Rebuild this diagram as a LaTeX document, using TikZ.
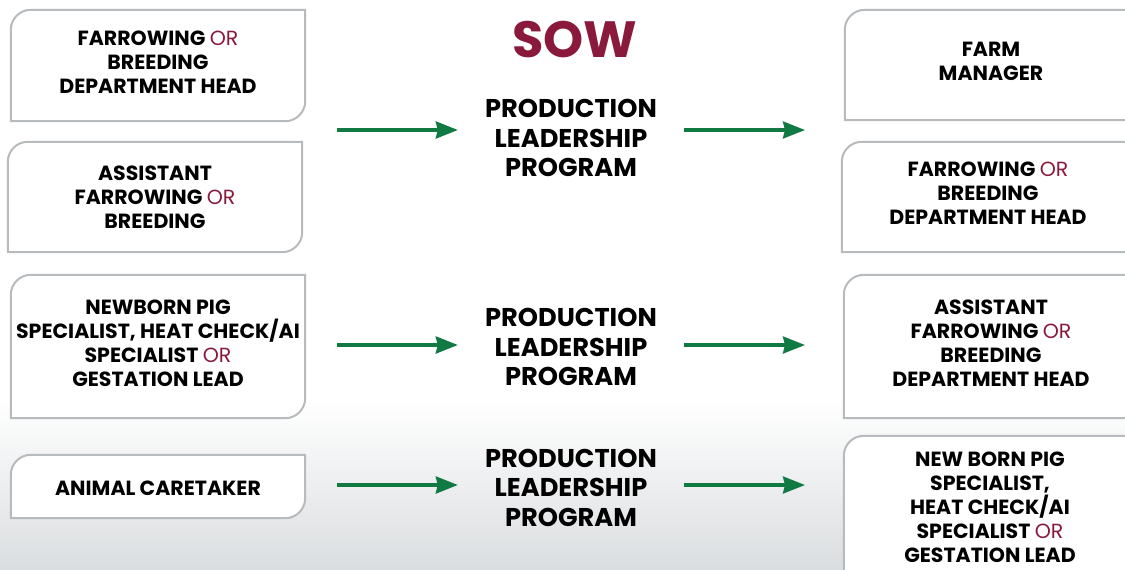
\documentclass[tikz,border=0pt]{standalone}
\usepackage{fontspec}
\setmainfont{Poppins}[BoldFont={* Bold}]
\usetikzlibrary{calc,arrows.meta}
\definecolor{maroon}{HTML}{8A1A3C}
\definecolor{arrgreen}{HTML}{117A43}
\definecolor{boxgray}{HTML}{B7BBBE}
\definecolor{bggray}{HTML}{DADDDF}
\pgfdeclarelayer{bg}
\pgfsetlayers{bg,main}
\newcommand\orw{{\fontseries{m}\selectfont\color{maroon}OR}}
\newcommand\rbox[1]{%
  \draw[boxline] (#1.south west) -- ($(#1.north west)+(0,20)$)
    .. controls ($(#1.north west)+(0,9)$) and ($(#1.north west)+(9,0)$) .. ($(#1.north west)+(20,0)$)
    -- (#1.north east) -- ($(#1.south east)+(0,-20)$)
    .. controls ($(#1.south east)+(0,-9)$) and ($(#1.south east)+(-9,0)$) .. ($(#1.south east)+(-20,0)$)
    -- cycle;}
\tikzset{
  boxline/.style={draw=boxgray, line width=2pt, fill=white},
  frame/.style={rectangle, inner sep=0pt, draw=none},
  btext/.style={font=\bfseries\fontsize{20.5}{24}\selectfont, align=center, inner sep=0pt},
  ptext/.style={font=\bfseries\fontsize{25.7}{29.5}\selectfont, align=center, inner sep=0pt, minimum width=226pt},
  arr/.style={draw=arrgreen, line width=3.2pt, -{Stealth[length=22pt,width=17pt,inset=2pt]}},
}
\begin{document}
\begin{tikzpicture}[x=1pt,y=-1pt]
\useasboundingbox (0,0) rectangle (1125,570);
\begin{pgfonlayer}{bg}
\shade[top color=white, bottom color=bggray] (0,400) rectangle (1125,570);
\end{pgfonlayer}
% frames
\node[frame, minimum width=294pt, minimum height=111pt] (l1) at (158,65.5) {};
\node[frame, minimum width=294pt, minimum height=110pt] (l2) at (155,197) {};
\node[frame, minimum width=294pt, minimum height=143pt] (l3) at (158,346.5) {};
\node[frame, minimum width=294pt, minimum height=63pt] (l4) at (158,486.5) {};
\node[frame, minimum width=300pt, minimum height=110pt] (r1) at (995,65) {};
\node[frame, minimum width=300pt, minimum height=110pt] (r2) at (992,197) {};
\node[frame, minimum width=300pt, minimum height=143pt] (r3) at (994,346.5) {};
\node[frame, minimum width=300pt, minimum height=170pt] (r4) at (994,521) {};
\begin{pgfonlayer}{bg}
\rbox{l1}\rbox{l2}\rbox{l3}\rbox{l4}\rbox{r1}\rbox{r2}\rbox{r3}\rbox{r4}
\end{pgfonlayer}
% texts
\node[btext] (l1t) at (158,62) {FARROWING \orw\\BREEDING\\DEPARTMENT HEAD};
\node[btext] (l2t) at (155,197) {ASSISTANT\\FARROWING \orw\\BREEDING};
\node[btext] (l3t) at (158,343) {NEWBORN PIG\\SPECIALIST, HEAT CHECK/AI\\SPECIALIST \orw\\GESTATION LEAD};
\node[btext] (l4t) at (158,488) {ANIMAL CARETAKER};
\node[btext] (r1t) at (991,61) {FARM\\MANAGER};
\node[btext] (r2t) at (988,193.5) {FARROWING \orw\\BREEDING\\DEPARTMENT HEAD};
\node[btext] (r3t) at (991,343) {ASSISTANT\\FARROWING \orw\\BREEDING\\DEPARTMENT HEAD};
\node[btext] (r4t) at (990,507.5) {NEW BORN PIG\\SPECIALIST,\\HEAT CHECK/AI\\SPECIALIST \orw\\GESTATION LEAD};
\node[font=\bfseries\fontsize{51}{55}\selectfont, text=maroon, inner sep=0pt] (sow) at (575,39.5) {SOW};
\node[ptext] (p1) at (571,138) {PRODUCTION\\LEADERSHIP\\PROGRAM};
\node[ptext] (p2) at (571,347) {PRODUCTION\\LEADERSHIP\\PROGRAM};
\node[ptext] (p3) at (571,487.5) {PRODUCTION\\LEADERSHIP\\PROGRAM};
% arrows
\coordinate (a1) at (337,130); \coordinate (b1) at (805,130);
\coordinate (a2) at (337,345); \coordinate (b2) at (805,345);
\coordinate (a3) at (337,485); \coordinate (b3) at (805,485);
\draw[arr] (a1) -- (a1 -| p1.west);
\draw[arr] (p1.east |- a1) -- (b1);
\draw[arr] (a2) -- (a2 -| p2.west);
\draw[arr] (p2.east |- a2) -- (b2);
\draw[arr] (a3) -- (a3 -| p3.west);
\draw[arr] (p3.east |- a3) -- (b3);
\end{tikzpicture}
\end{document}
